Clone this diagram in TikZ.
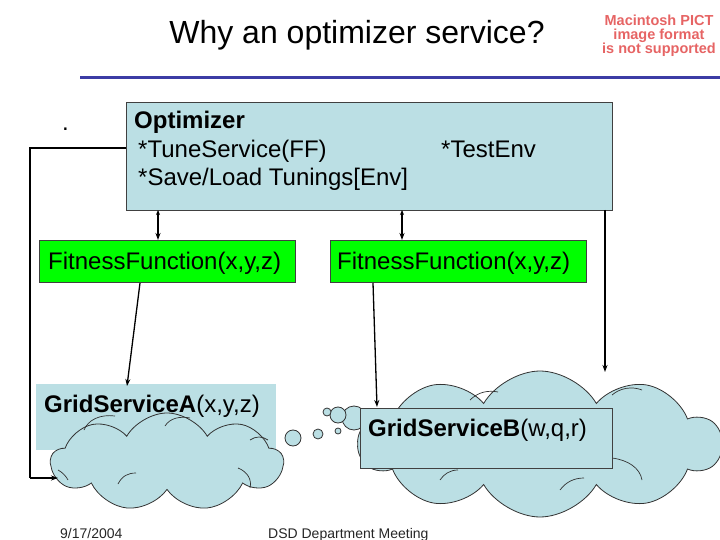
\documentclass[tikz,border=0pt]{standalone}
\usepackage{fontspec}
\setmainfont{Liberation Sans}
\usetikzlibrary{shapes.symbols,arrows.meta,calc}
\definecolor{lblue}{RGB}{187,223,228}
\definecolor{ffgreen}{RGB}{0,255,0}
\definecolor{rulecol}{RGB}{60,60,165}
\definecolor{pictred}{RGB}{230,100,100}
\tikzset{
  boxnode/.style={draw=black!75,line width=0.8pt,fill=#1,inner sep=0pt,anchor=north west},
  ffbox/.style={boxnode=ffgreen,minimum width=256pt,minimum height=42pt},
  txt/.style={inner sep=0pt,anchor=base west,font=\fontsize{24}{24}\selectfont},
  cloudnode/.style={cloud,cloud puff arc=120,cloud ignores aspect,draw=black!80,line width=0.8pt,fill=lblue,inner sep=0pt},
  bubble/.style={circle,draw=black!80,line width=0.8pt,fill=lblue,inner sep=0pt,minimum size=#1},
  inner/.style={draw=black!80,line width=0.7pt},
  conn/.style={line width=1.3pt,-{Stealth[length=7pt,width=5pt]}},
  dconn/.style={line width=1.3pt,{Stealth[length=5pt,width=4pt]}-{Stealth[length=7pt,width=5pt]}},
  foot/.style={inner sep=0pt,anchor=base west,font=\fontsize{14}{14}\selectfont,text=black!85}
}
\begin{document}
\begin{tikzpicture}[x=1pt,y=-1pt]
\useasboundingbox (0,0) rectangle (720,540);
% title and rule
\node[inner sep=0pt,font=\fontsize{32}{32}\selectfont] (title) at (357,35) {Why an optimizer service?};
\coordinate (rl) at (80,78);
\coordinate (rr) at (720,78);
\draw[rulecol,line width=3pt] (rl) -- (rr);
\node[inner sep=0pt,align=center,text=pictred,font=\bfseries\fontsize{14.5}{14}\selectfont] (pict) at (659,36) {Macintosh PICT\\image format\\is not supported};
\node[txt] (dot) at (62,131) {.};
% optimizer
\node[boxnode=lblue,minimum width=486pt,minimum height=108pt] (opt) at (126,102) {};
\node[txt,font=\bfseries\fontsize{24}{24}\selectfont] (optt) at (134,129) {Optimizer};
\node[txt] (tune) at (138,158) {*TuneService(FF)};
\node[txt] (test) at (441,158) {*TestEnv};
\node[txt] (save) at (138,186) {*Save/Load Tunings[Env]};
% fitness functions
\node[ffbox] (ff1) at (39,240) {};
\node[txt] (ff1t) at (48,269) {FitnessFunction(x,y,z)};
\node[ffbox] (ff2) at (330,240) {};
\node[txt] (ff2t) at (337,269) {FitnessFunction(x,y,z)};
% grid service A
\node[fill=lblue,inner sep=0pt,anchor=north west,minimum width=240pt,minimum height=66pt] (ga) at (36,384) {};
\node[cloudnode,cloud puffs=9,minimum width=232pt,minimum height=98pt] (ca) at (167,462) {};
\draw[inner] (84,430) .. controls (88,420) and (100,414) .. (115,416);
\draw[inner] (165,426) .. controls (170,418) and (180,416) .. (190,418);
\draw[inner] (250,440) .. controls (256,436) and (262,436) .. (268,440);
\draw[inner] (238,468) .. controls (248,472) and (252,480) .. (250,488);
\draw[inner] (118,484) .. controls (122,476) and (128,473) .. (136,473);
\draw[inner] (58,470) .. controls (62,472) and (66,476) .. (68,480);
\node[txt] (gat) at (44,412) {\textbf{GridServiceA}(x,y,z)};
% grid service B
\node[cloudnode,cloud puffs=10,minimum width=362pt,minimum height=146pt] (cb) at (540,444) {};
\draw[inner] (470,400) .. controls (478,392) and (488,390) .. (498,392);
\draw[inner] (612,395) .. controls (620,388) and (632,386) .. (642,390);
\draw[inner] (612,458) .. controls (628,460) and (640,468) .. (642,480);
\draw[inner] (560,490) .. controls (566,482) and (574,478) .. (584,478);
\draw[inner] (440,480) .. controls (444,474) and (450,470) .. (458,470);
\node[bubble=24pt] (b6) at (354,418) {};
\node[bubble=16pt] (b5) at (338,415) {};
\node[bubble=8pt] (b4) at (327,412) {};
\node[bubble=16pt] (b1) at (293,438) {};
\node[bubble=10pt] (b2) at (318,434) {};
\node[bubble=6pt] (b3) at (338,431) {};
\node[boxnode=lblue,minimum width=252pt,minimum height=60pt] (gb) at (360,408) {};
\node[txt] (gbt) at (368,436) {\textbf{GridServiceB}(w,q,r)};
% connectors
\coordinate (a1) at (158,210);
\coordinate (a2) at (158,240);
\draw[dconn] (a1) -- (a2);
\coordinate (a3) at (402,210);
\coordinate (a4) at (402,240);
\draw[dconn] (a3) -- (a4);
\coordinate (l1) at (126,148);
\coordinate (l2) at (30,148);
\coordinate (l3) at (30,478);
\coordinate (l4) at (58,478);
\draw[line width=1.3pt] (l1) -- (l2) -- (l3);
\draw[conn] (l3) -- (l4);
\coordinate (f1) at (140,283);
\coordinate (f1e) at (127,386);
\draw[conn] (f1) -- (f1e);
\coordinate (f2) at (373,283);
\coordinate (f2e) at (377,407);
\draw[conn] (f2) -- (f2e);
\coordinate (r1) at (605,210);
\coordinate (r2) at (605,372);
\draw[conn] (r1) -- (r2);
% footer
\node[foot] (date) at (60,538) {9/17/2004};
\node[foot] (meet) at (268,538) {DSD Department Meeting};
\end{tikzpicture}
\end{document}
